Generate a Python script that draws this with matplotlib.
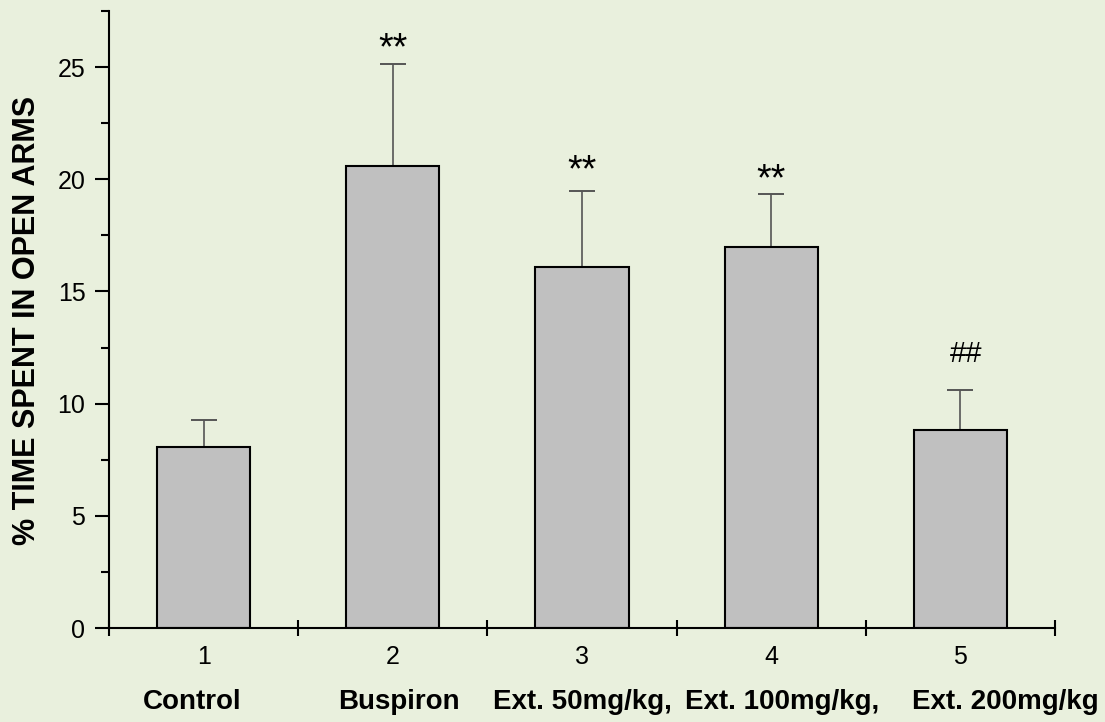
import matplotlib
matplotlib.use("Agg")
import matplotlib.pyplot as plt
import numpy as np
from matplotlib.ticker import MultipleLocator, FixedLocator

plt.rcParams['font.family'] = ['Liberation Sans', 'DejaVu Sans']

groups = [1, 2, 3, 4, 5]
group_labels = ["Control", "Buspiron", "Ext. 50mg/kg,", "Ext. 100mg/kg,", "Ext. 200mg/kg"]
means = [8.08, 20.6, 16.1, 16.97, 8.84]
sems = [1.19, 4.53, 3.37, 2.38, 1.78]
marks = ["", "**", "**", "**", "##"]
ylabel = "% TIME SPENT IN OPEN ARMS"

# styling / placement (not data)
bg = "#E9F0DD"
label_dx = [-0.06, 0.03, 0.0, 0.06, 0.24]
mark_dy = [0, -2, 1, -3, 16]
mark_dx = [0, 0, 0, 0, 4]
mark_size = {"**": 27, "##": 21}

fig = plt.figure(figsize=(11.05, 7.22), dpi=100, facecolor=bg)
ax = fig.add_axes([109/1105, 1 - 628/722, (1055-109)/1105, (628-11)/722])
ax.set_facecolor(bg)

x = np.array(groups, dtype=float)
ax.bar(x, means, width=0.493, color="#C0C0C0", edgecolor="black", linewidth=1.5, zorder=2)
ax.errorbar(x, means, yerr=[np.zeros(len(sems)), sems], fmt="none", ecolor="#555555",
            elinewidth=1.2, capsize=9.7, capthick=1.4, zorder=1)

for xi, m, s, t, dx, dy in zip(x, means, sems, marks, mark_dx, mark_dy):
    if t:
        ax.annotate(t, (xi, m + s), xytext=(dx, dy), textcoords="offset points",
                    ha="center", va="bottom", fontsize=mark_size[t])

ax.set_xlim(0.5, 5.5)
ax.set_ylim(0, 27.5)

ax.spines['top'].set_visible(False)
ax.spines['right'].set_visible(False)
ax.spines['left'].set_linewidth(1.5)
ax.spines['bottom'].set_linewidth(1.5)

ax.yaxis.set_major_locator(MultipleLocator(5))
ax.yaxis.set_minor_locator(MultipleLocator(2.5))
ax.tick_params(axis='y', which='major', direction='out', length=10, width=1.5, labelsize=18, pad=7)
ax.tick_params(axis='y', which='minor', direction='out', length=5.8, width=1.5)

ax.xaxis.set_major_locator(FixedLocator(np.arange(0.5, 6, 1.0)))
ax.xaxis.set_minor_locator(FixedLocator(x))
ax.xaxis.set_major_formatter(plt.NullFormatter())
ax.xaxis.set_minor_formatter(plt.FixedFormatter([str(g) for g in groups]))
ax.tick_params(axis='x', which='major', direction='inout', length=11.5, width=1.5)
ax.tick_params(axis='x', which='minor', length=0, labelsize=18, pad=12)

trans = ax.get_xaxis_transform()
for xi, lab, dx in zip(x, group_labels, label_dx):
    ax.text(xi + dx, -0.12, lab, transform=trans, ha="center", va="center",
            fontsize=20, fontweight="bold")

fig.text(27/1105, 1 - 320/722, ylabel, rotation=90, ha="center", va="center",
         fontsize=22, fontweight="bold")

fig.savefig("out.png", dpi=100, facecolor=bg)
